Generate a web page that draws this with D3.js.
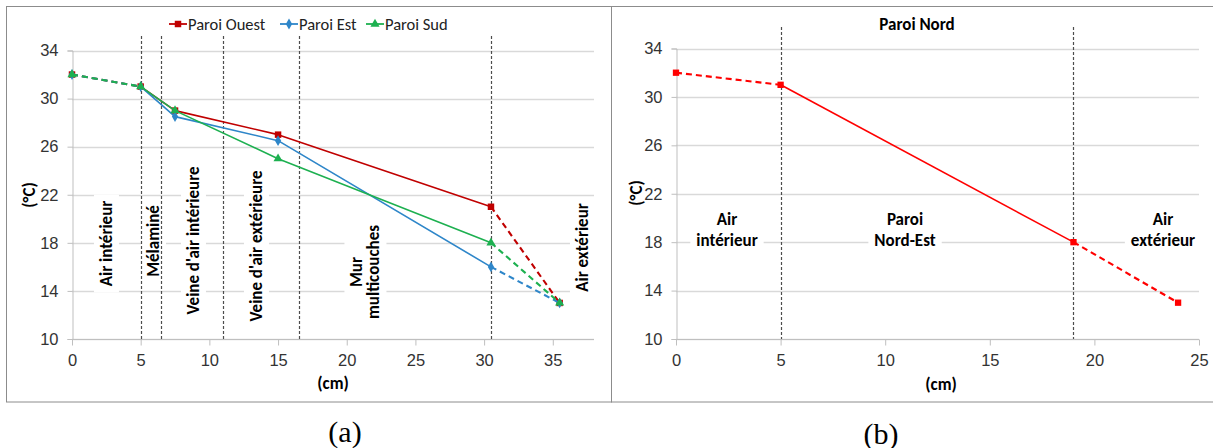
<!DOCTYPE html>
<html><head><meta charset="utf-8">
<script src="https://cdn.jsdelivr.net/npm/d3@7"></script>
<style>
html,body{margin:0;padding:0;background:#fff;}
svg{display:block;font-family:Carlito,Calibri,Lato,sans-serif;}
</style></head>
<body>
<svg id="c" width="1213" height="448"></svg>
<script>
// ---------- data ----------
const yTicks = [10,14,18,22,26,30,34];
const xTicksL = [0,5,10,15,20,25,30,35];
const xTicksR = [0,5,10,15,20,25];
const posL = [0,5,7.5,15,30.5,35.5];
const ouest = [32,31,29,27,21,13];
const est   = [32,31,28.5,26.5,16,13];
const sud   = [32,31,29,25,18,13];
const seriesNames = ["Paroi Ouest","Paroi Est","Paroi Sud"];
const layersL = [5,6.5,11,16.5,30.5];
const layerLabelsL = [["Air intérieur"],["Mélaminé"],["Veine d'air intérieure"],["Veine d'air extérieure"],["Mur","multicouches"],["Air extérieur"]];
const posR = [0,5,19,24];
const nord = [32,31,18,13];
const layersR = [5,19];
const layerLabelsR = [["Air","intérieur"],["Paroi","Nord-Est"],["Air","extérieur"]];
const titleR = "Paroi Nord";
const yTitle = "(°C)", xTitle = "(cm)";
const captions = ["(a)","(b)"];

// ---------- setup ----------
const svg = d3.select("#c");
const FT = 16.5;   // tick / legend font
const FL = 17;     // bold label font
const colors = ["#C00000","#2E86C9","#1DB050"];
const symbols = [d3.symbolSquare, d3.symbolDiamond, d3.symbolTriangle];
const symSizes = [42, 34, 36];

// frames
svg.append("rect").attr("x",6.5).attr("y",6.5).attr("width",605).attr("height",395.5)
  .attr("fill","none").attr("stroke","#8c8c8c");
svg.append("rect").attr("x",611.5).attr("y",6.5).attr("width",605).attr("height",395.5)
  .attr("fill","none").attr("stroke","#8c8c8c");

function panel(x, y, xTicks){
  const g = svg.append("g");
  const [x0,x1] = x.range(), [y0,y1] = y.range();
  g.append("g").selectAll("line").data(yTicks).join("line")
    .attr("x1",x0).attr("x2",x1).attr("y1",d=>Math.round(y(d))+0.5).attr("y2",d=>Math.round(y(d))+0.5)
    .attr("stroke","#d9d9d9").attr("stroke-width",1.4);
  const ya = g.append("g").attr("transform",`translate(${x0+0.5},0)`)
    .call(d3.axisLeft(y).tickValues(yTicks).tickSize(5).tickPadding(9).tickFormat(d3.format("d")));
  ya.select(".domain").attr("stroke","#bfbfbf");
  ya.selectAll(".tick line").attr("stroke","#bfbfbf");
  ya.selectAll("text").attr("font-size",FT).attr("fill","#333").attr("font-family","inherit");
  const xa = g.append("g").attr("transform",`translate(0,${Math.round(y0)+0.5})`)
    .call(d3.axisBottom(x).tickValues(xTicks).tickSize(6).tickPadding(9).tickFormat(d3.format("d")));
  xa.select(".domain").attr("stroke","#bfbfbf").attr("d",`M${x0},0H${x1}`);
  xa.selectAll(".tick line").attr("stroke","#bfbfbf");
  xa.selectAll("text").attr("font-size",FT).attr("fill","#333").attr("font-family","inherit");
  return g;
}

function layerLines(g, x, y, layers, topY){
  g.append("g").selectAll("line").data(layers).join("line")
    .attr("x1",d=>Math.round(x(d))+0.5).attr("x2",d=>Math.round(x(d))+0.5)
    .attr("y1",topY).attr("y2",y.range()[0])
    .attr("stroke","#4d4d4d").attr("stroke-dasharray","3,2").attr("stroke-width",1.2);
}

function labelBox(g, cx, cy, lines, rotate, lineGap){
  const lg = g.append("g").attr("transform",`translate(${cx},${cy}) rotate(${rotate})`);
  const bg = lg.append("rect").attr("fill","#fff");
  const t = lg.append("text").attr("text-anchor","middle").attr("font-weight","bold")
    .attr("font-size",FL).attr("fill","#000");
  const n = lines.length;
  lines.forEach((s,i)=>{
    t.append("tspan").attr("x",0).attr("y",(i-(n-1)/2)*lineGap).attr("dy","0.35em").text(s);
  });
  const b = t.node().getBBox();
  bg.attr("x",b.x-6).attr("y",b.y-2).attr("width",b.width+12).attr("height",b.height+4);
  return lg;
}

function drawSeries(g, x, y, xs, vals, color, sym, size, lw){
  const pts = xs.map((d,i)=>[x(d),y(vals[i])]);
  const line = d3.line();
  const n = pts.length;
  g.append("path").attr("d",line(pts.slice(1,n-1))).attr("fill","none")
    .attr("stroke",color).attr("stroke-width",lw).attr("stroke-linejoin","round");
  [[0,1],[n-2,n-1]].forEach(([a,b])=>{
    g.append("path").attr("d",line([pts[a],pts[b]])).attr("fill","none")
      .attr("stroke",color).attr("stroke-width",lw+0.5).attr("stroke-dasharray","6,4");
  });
  g.append("g").selectAll("path").data(pts).join("path")
    .attr("transform",d=>`translate(${d[0]},${d[1]})`)
    .attr("d",d3.symbol(sym,size)()).attr("fill",color);
}

// ---------- left panel ----------
const xL = d3.scaleLinear().domain([0,38]).range([72,594]);
const yL = d3.scaleLinear().domain([10,34]).range([339,50.5]);
const gL = panel(xL, yL, xTicksL);
const lblPosL = [[106,243.5],[153,241],[193,240.5],[256,246],[365,272],[582,247.5]];
layerLabelsL.forEach((l,i)=>labelBox(gL, lblPosL[i][0], lblPosL[i][1], l, -90, 17));
layerLines(gL, xL, yL, layersL, 36);
const dataL = [ouest, est, sud];
dataL.forEach((v,i)=>drawSeries(gL, xL, yL, posL, v, colors[i], symbols[i], symSizes[i], 1.6));

// legend
const legX = [169, 280, 366];
seriesNames.forEach((s,i)=>{
  const lg = svg.append("g").attr("transform",`translate(${legX[i]},24)`);
  lg.append("line").attr("x1",0).attr("x2",18).attr("stroke",colors[i]).attr("stroke-width",1.8);
  lg.append("path").attr("transform","translate(9,0)").attr("d",d3.symbol(symbols[i],symSizes[i])()).attr("fill",colors[i]);
  lg.append("text").attr("x",19).attr("dy","0.35em").attr("font-size",FT).attr("fill","#222").text(s);
});

// axis titles
svg.append("text").attr("transform","translate(29,195) rotate(-90)").attr("text-anchor","middle")
  .attr("dy","0.35em").attr("font-weight","bold").attr("font-size",FL).text(yTitle);
svg.append("text").attr("x",333).attr("y",383).attr("text-anchor","middle")
  .attr("dy","0.35em").attr("font-weight","bold").attr("font-size",FL).text(xTitle);

// ---------- right panel ----------
const xR = d3.scaleLinear().domain([0,25]).range([676,1199]);
const yR = d3.scaleLinear().domain([10,34]).range([339,48.5]);
const gR = panel(xR, yR, xTicksR);
const lblPosR = [[727,230],[905,230],[1163,230]];
layerLabelsR.forEach((l,i)=>labelBox(gR, lblPosR[i][0], lblPosR[i][1], l, 0, 21));
layerLines(gR, xR, yR, layersR, 27);
drawSeries(gR, xR, yR, posR, nord, "#FF0000", d3.symbolSquare, 40, 1.6);
svg.append("text").attr("x",917).attr("y",24).attr("text-anchor","middle")
  .attr("dy","0.35em").attr("font-weight","bold").attr("font-size",FL).text(titleR);
svg.append("text").attr("transform","translate(636,193) rotate(-90)").attr("text-anchor","middle")
  .attr("dy","0.35em").attr("font-weight","bold").attr("font-size",FL).text(yTitle);
svg.append("text").attr("x",941).attr("y",384).attr("text-anchor","middle")
  .attr("dy","0.35em").attr("font-weight","bold").attr("font-size",FL).text(xTitle);

// captions
[[345,431],[881,433]].forEach((p,i)=>{
  svg.append("text").attr("x",p[0]).attr("y",p[1]).attr("text-anchor","middle").attr("dy","0.35em")
    .attr("font-family","'Liberation Serif','Times New Roman',serif").attr("font-size",30).text(captions[i]);
});
</script>
</body></html>
